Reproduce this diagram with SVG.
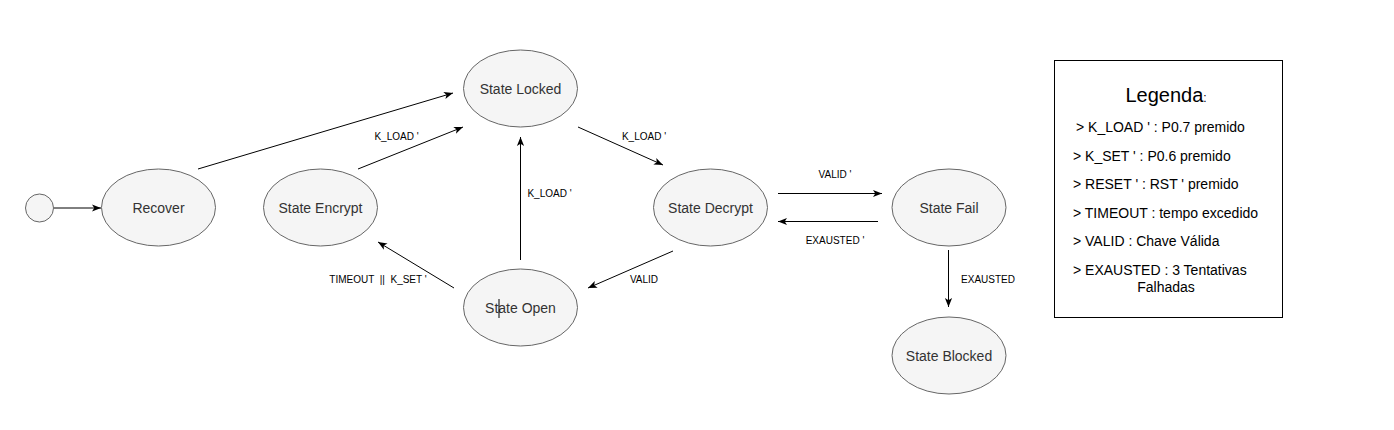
<svg xmlns="http://www.w3.org/2000/svg" width="1394" height="430" viewBox="0 0 1394 430">
<style>
.node{fill:#f5f5f5;stroke:#666;stroke-width:1}
.nt{font-family:"Liberation Sans",Arial,sans-serif;font-size:14px;fill:#333;text-anchor:middle}
.el{font-family:"Liberation Sans",Arial,sans-serif;font-size:10px;fill:#000;text-anchor:middle;white-space:pre}
.edge{stroke:#000;stroke-width:1;fill:none;marker-end:url(#arr)}
.lg{font-family:"Liberation Sans",Arial,sans-serif;font-size:14px;fill:#000}
</style>
<defs>
<marker id="arr" viewBox="0 0 10 10" refX="10" refY="5" markerWidth="9" markerHeight="9" markerUnits="userSpaceOnUse" orient="auto">
<path d="M0,1 L10,5 L0,9 L2.5,5 z" fill="#000"/>
</marker>
</defs>
<rect width="1394" height="430" fill="#fff"/>
<g id="connectors">
<line class="edge" x1="54" y1="208" x2="101" y2="208"/>
<line class="edge" x1="198" y1="169" x2="453" y2="93"/>
<line class="edge" x1="358" y1="169" x2="463" y2="127"/>
<line class="edge" x1="578" y1="127" x2="663" y2="165"/>
<line class="edge" x1="520.5" y1="260" x2="520.5" y2="137"/>
<line class="edge" x1="454" y1="288" x2="378" y2="242"/>
<line class="edge" x1="673" y1="251" x2="588" y2="288"/>
<line class="edge" x1="778" y1="193.5" x2="882" y2="193.5"/>
<line class="edge" x1="878" y1="221.5" x2="778" y2="221.5"/>
<line class="edge" x1="948.5" y1="250" x2="948.5" y2="307"/>
<text class="el" x="396.5" y="140">K_LOAD '</text>
<text class="el" x="644" y="140">K_LOAD '</text>
<text class="el" x="549.5" y="197">K_LOAD '</text>
<text class="el" x="378" y="283" xml:space="preserve">TIMEOUT  ||  K_SET '</text>
<text class="el" x="644" y="283">VALID</text>
<text class="el" x="835" y="178">VALID '</text>
<text class="el" x="835" y="244">EXAUSTED '</text>
<text class="el" x="988" y="283">EXAUSTED</text>
</g>
<g id="start"><circle class="node" cx="39.5" cy="208" r="14"/></g>
<g id="recover"><ellipse class="node" cx="158.5" cy="207.5" rx="57" ry="38.5"/><text class="nt" x="158.5" y="212.5">Recover</text></g>
<g id="encrypt"><ellipse class="node" cx="320.5" cy="207.5" rx="57" ry="38.5"/><text class="nt" x="320.5" y="212.5">State Encrypt</text></g>
<g id="locked"><ellipse class="node" cx="520.5" cy="88.5" rx="57" ry="38.5"/><text class="nt" x="520.5" y="93.5">State Locked</text></g>
<g id="open"><ellipse class="node" cx="520.5" cy="307.5" rx="57" ry="38.5"/><text class="nt" x="520.5" y="312.5">State Open</text><line x1="499" y1="299" x2="499" y2="318" stroke="#000" stroke-width="1"/></g>
<g id="decrypt"><ellipse class="node" cx="710.5" cy="207.5" rx="57" ry="38.5"/><text class="nt" x="710.5" y="212.5">State Decrypt</text></g>
<g id="fail"><ellipse class="node" cx="949" cy="207.5" rx="57" ry="38.5"/><text class="nt" x="949" y="212.5">State Fail</text></g>
<g id="blocked"><ellipse class="node" cx="949" cy="355.5" rx="57" ry="38.5"/><text class="nt" x="949" y="360.5">State Blocked</text></g>
<g id="legend">
<rect x="1054.5" y="60.5" width="228" height="257" fill="#fff" stroke="#000" stroke-width="1"/>
<text x="1166" y="102" font-family="'Liberation Sans',Arial,sans-serif" font-size="20" fill="#000" text-anchor="middle">Legenda<tspan font-size="12">:</tspan></text>
<text class="lg" x="1076" y="132">&gt; K_LOAD ' : P0.7 premido</text>
<text class="lg" x="1073" y="160.5">&gt; K_SET ' : P0.6 premido</text>
<text class="lg" x="1073" y="189">&gt; RESET ' : RST ' premido</text>
<text class="lg" x="1073" y="217.5">&gt; TIMEOUT : tempo excedido</text>
<text class="lg" x="1073" y="246">&gt; VALID : Chave Válida</text>
<text class="lg" x="1073" y="274.5">&gt; EXAUSTED : 3 Tentativas</text>
<text class="lg" x="1166" y="291.5" text-anchor="middle">Falhadas</text>
</g>
</svg>
